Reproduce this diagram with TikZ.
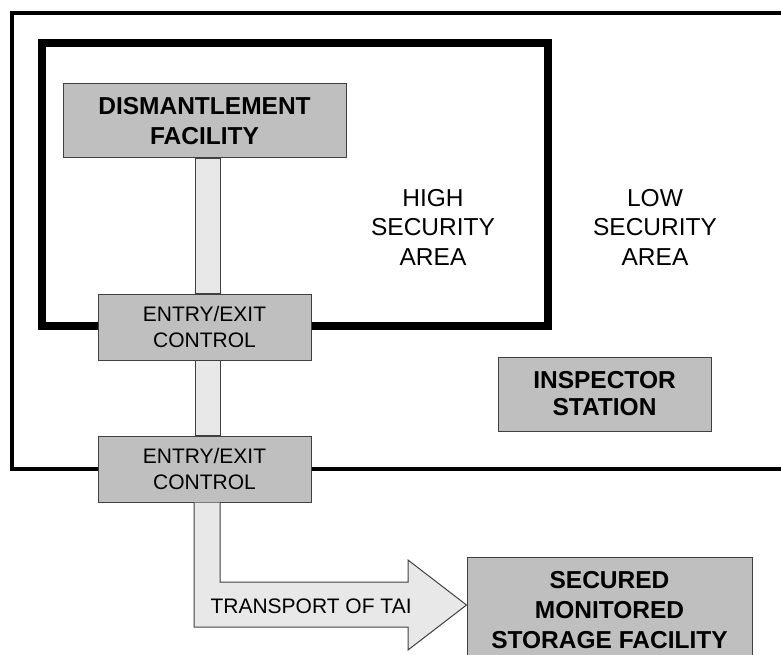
\documentclass[tikz,border=0pt]{standalone}
\usepackage{fontspec}
\setmainfont{Liberation Sans}
\begin{document}
\begin{tikzpicture}[x=1pt,y=-1pt,
  box/.style={draw=black!75,line width=1pt,fill=black!25,align=center,inner sep=0pt},
  boldtxt/.style={font=\fontsize{24.5}{30}\selectfont\bfseries},
  regtxt/.style={font=\fontsize{21}{26}\selectfont},
  areatxt/.style={align=center,font=\fontsize{24.5}{29.5}\selectfont},
  barfill/.style={draw=black!75,line width=1pt,fill=black!9}]
\useasboundingbox (0,0) rectangle (781,655);
\clip (0,0) rectangle (781,655);
% outer low security boundary
\draw[line width=3.6pt] (800,13) -- (12,13) -- (12,469) -- (800,469);
% inner high security boundary
\draw[line width=7.5pt] (42,43) rectangle (548,326);
% nodes
\node[box,boldtxt,minimum width=283pt,minimum height=74pt] (dis) at (204.5,121) {DISMANTLEMENT\\FACILITY};
\node[box,regtxt,minimum width=213pt,minimum height=66pt] (e1) at (204.5,327) {ENTRY/EXIT\\CONTROL};
\node[box,regtxt,minimum width=213pt,minimum height=66pt] (e2) at (204.5,469) {ENTRY/EXIT\\CONTROL};
\node[box,font=\fontsize{24.5}{27}\selectfont\bfseries,minimum width=213pt,minimum height=74pt] (insp) at (604.5,394) {INSPECTOR\\STATION};
\node[box,boldtxt,minimum width=285pt,minimum height=106pt] (st) at (609.5,610) {SECURED\\MONITORED\\STORAGE FACILITY};
% connector bars
\draw[barfill] ([xshift=-9.5pt]dis.south) rectangle ([xshift=15.5pt]e1.north);
\draw[barfill] ([xshift=-9.5pt]e1.south) rectangle ([xshift=15.5pt]e2.north);
% area labels
\node[areatxt] (high) at (433,227) {HIGH\\SECURITY\\AREA};
\node[areatxt] (low) at (655,227) {LOW\\SECURITY\\AREA};
% transport arrow
\coordinate (tip) at (st.west |- 0,605);
\draw[barfill] ([xshift=-10.5pt]e2.south) -- (194,627) -- (408,627) -- (408,650) -- (tip)
  -- (408,560) -- (408,582) -- (220,582) -- ([xshift=15.5pt]e2.south);
\node[regtxt,anchor=west] (tr) at (207,606) {TRANSPORT OF TAI};
\end{tikzpicture}
\end{document}
